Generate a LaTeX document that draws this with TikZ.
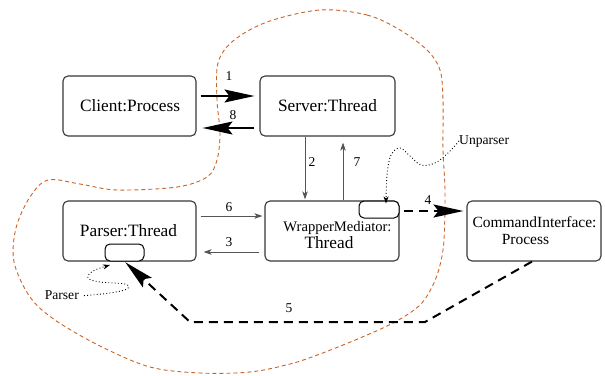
\documentclass[tikz,border=0pt]{standalone}
\usepackage{fontspec}
\setmainfont{Liberation Serif}
\usetikzlibrary{arrows.meta}
\definecolor{blob}{RGB}{200,100,40}
\definecolor{boxline}{RGB}{55,55,55}
\definecolor{thinline}{RGB}{85,85,85}
\begin{document}
\begin{tikzpicture}[x=1pt,y=-1pt,
  procbox/.style={draw=boxline, line width=1.1pt, rounded corners=5pt, minimum height=60pt, inner sep=0pt},
  portbox/.style={draw=black, fill=white, line width=1pt, rounded corners=5pt, minimum width=39pt, minimum height=17pt, inner sep=0pt},
  bigtxt/.style={inner sep=0pt, anchor=base, font=\fontsize{17.3}{20}\selectfont},
  midtxt/.style={inner sep=0pt, anchor=base, font=\fontsize{15.5}{18}\selectfont},
  smalltxt/.style={inner sep=0pt, anchor=base, font=\fontsize{13.6}{16}\selectfont},
  lbl/.style={inner sep=0pt, font=\fontsize{13.5}{16}\selectfont},
  bigarrow/.style={-{Stealth[length=30pt,width=13pt,inset=5pt]}, line width=1.5pt, black},
  dasharrow/.style={-{Stealth[length=30pt,width=13pt,inset=5pt]}, line width=2pt, black, dash pattern=on 9pt off 6pt},
  smallarrow/.style={-{Stealth[length=8pt,width=5.5pt,inset=2pt]}, line width=1pt, thinline},
  dotarrow/.style={-{Stealth[length=7pt,width=5pt,inset=2pt]}, line width=0.9pt, black, dash pattern=on 0.9pt off 2.3pt}
]
\useasboundingbox (0,0) rectangle (605,375);

% orange boundary
\draw[blob, line width=0.9pt, dash pattern=on 4pt off 3pt]
  plot[smooth cycle, tension=0.55] coordinates {
  (320,10) (367,15) (400,30) (427,50) (440,70) (443,100) (443,150) (445,190)
  (444,240) (440,265) (433,285) (420,305) (395,322) (360,338) (320,354) (290,364)
  (250,372) (200,373) (150,367) (100,346) (55,320) (30,297) (14,262) (16,228)
  (30,197) (48,180) (80,184) (117,190) (177,187) (207,177) (217,160) (220,133)
  (217,100) (218,63) (233,41) (267,22)};

% boxes
\node[procbox, minimum width=133pt] (client) at (129.5,106) {};
\node[procbox, minimum width=135pt] (server) at (327.5,106) {};
\node[procbox, minimum width=133pt] (parser) at (129.5,231) {};
\node[procbox, minimum width=134pt] (wrap) at (332,231) {};
\node[procbox, minimum width=134pt] (cmd) at (534,231) {};
\node[portbox] (pport) at (124.5,252.5) {};
\node[portbox, minimum width=40pt] (wport) at (379,209.5) {};

% box texts
\node[bigtxt] (tclient) at (130,111) {Client:Process};
\node[bigtxt] (tserver) at (327.5,111) {Server:Thread};
\node[bigtxt] (tparser) at (128.5,236) {Parser:Thread};
\node[inner sep=0pt, anchor=base, font=\fontsize{14.6}{17}\selectfont] (twrap1) at (337.5,231) {WrapperMediator:};
\node[bigtxt] (twrap2) at (329,248.5) {Thread};
\node[midtxt] (tcmd1) at (534.5,227) {CommandInterface:};
\node[midtxt] (tcmd2) at (525.5,244) {Process};

% arrows between client and server
\draw[bigarrow, shorten <=4pt, shorten >=5pt] ([yshift=10pt]client.east) -- ([yshift=10pt]server.west);
\draw[bigarrow, shorten <=5pt, shorten >=6pt] ([yshift=-22pt]server.west) -- ([yshift=-22pt]client.east);
\node[lbl] (l1) at (229,76) {1};
\node[lbl] (l8) at (233,115) {8};

% server <-> wrapper
\coordinate (s2) at ([xshift=-22.5pt]server.south);
\coordinate (s7) at ([xshift=15.5pt]server.south);
\draw[smallarrow, shorten >=1pt] (s2) -- (s2 |- wrap.north);
\draw[smallarrow, shorten >=6pt] (s7 |- wrap.north) -- (s7);
\node[lbl] (l2) at (312,162) {2};
\node[lbl] (l7) at (357,162) {7};

% parser <-> wrapper
\draw[smallarrow, shorten <=4pt, shorten >=2pt] ([yshift=15pt]parser.east) -- ([yshift=15pt]wrap.west);
\draw[smallarrow, shorten <=5pt, shorten >=7pt] ([yshift=-21pt]wrap.west) -- ([yshift=-21pt]parser.east);
\node[lbl] (l6) at (229,207) {6};
\node[lbl] (l3) at (229,242) {3};

% wrapper -> command interface
\draw[dasharrow, shorten <=4pt, shorten >=3pt] ([yshift=20pt]wrap.east) -- ([yshift=20pt]cmd.west);
\node[lbl] (l4) at (428,200) {4};

% command interface -> parser port
\coordinate (b1) at (425,322);
\coordinate (b2) at (190,322);
\draw[dasharrow, shorten >=1pt] ([xshift=-2pt]cmd.south) -- (b1) -- (b2) -- (pport.south);
\node[lbl] (l5) at (289,308) {5};

% port labels
\node[smalltxt, anchor=base west] (unp) at (459,144) {Unparser};
\draw[dotarrow] plot[smooth, tension=0.6] coordinates {
  (unp.west) (448,153) (435,163) (421,165) (410,156) (400,148) (391,155) (387,175) ([xshift=7pt,yshift=-3pt]wport.north)};

\node[smalltxt, anchor=base east] (plbl) at (79,299) {Parser};
\coordinate (ptip) at (110,265);
\draw[dotarrow] plot[smooth, tension=0.6] coordinates {
  ([xshift=5pt,yshift=-1pt]plbl.east) (110,293) (127,289) (125,284) (100,282) (88,278) (93,271) (ptip)};
\end{tikzpicture}
\end{document}
